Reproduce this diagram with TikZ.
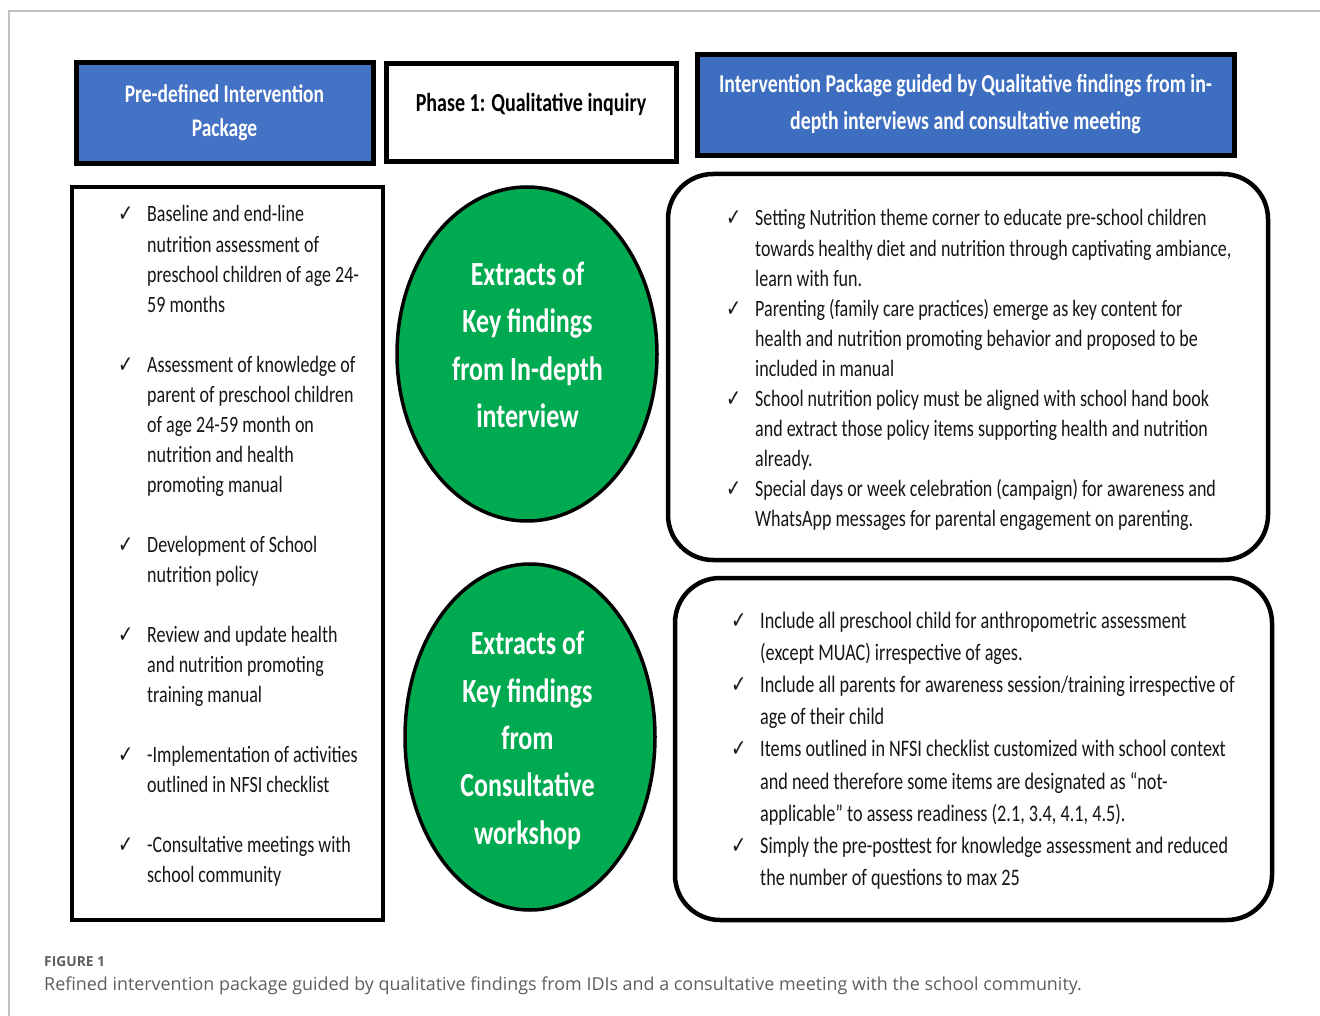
\documentclass[tikz,border=0pt]{standalone}
\usepackage{fontspec}
\usepackage{graphicx}
\setmainfont{Carlito}
\newfontfamily\symf{DejaVu Sans}
\newfontfamily\capf{Open Sans}
\usetikzlibrary{shapes.geometric}

\definecolor{hdrblue}{RGB}{68,114,196}
\definecolor{hdrblueb}{RGB}{62,110,192}
\definecolor{keygreen}{RGB}{0,170,80}
\definecolor{bodytext}{RGB}{22,22,22}
\definecolor{framegray}{RGB}{192,192,192}
\definecolor{capgray}{RGB}{95,95,95}

% check mark used as list bullet
\newcommand\tick{{\symf\char"2713}}
% the typeface of the figure is set tall and narrow
\newcommand\tall[1]{\scalebox{1}[1.3]{#1}}

\tikzset{
  hdrbox/.style={draw=black, line width=5pt, fill=hdrblue, inner sep=0pt},
  plainbox/.style={draw=black, line width=5pt, fill=white, inner sep=0pt},
  listbox/.style={draw=black, line width=4.5pt, fill=white, inner sep=0pt},
  roundbox/.style={draw=black, line width=4.5pt, rounded corners=45pt, fill=white, inner sep=0pt},
  keyoval/.style={ellipse, draw=black, line width=3.5pt, fill=keygreen, inner sep=0pt},
  hdrtext/.style={text=white, inner sep=0pt},
  ovaltext/.style={text=white, inner sep=0pt, font=\bfseries\fontsize{26}{36.4}\selectfont},
  bodytxt/.style={text=bodytext, inner sep=0pt, anchor=base west},
}

\begin{document}
\begin{tikzpicture}[x=1pt, y=-1pt]
\useasboundingbox (0,0) rectangle (1320,1016);
\fill[white] (0,0) rectangle (1320,1016);

% thin page frame (top and left)
\draw[framegray, line width=1.5pt] (9,1016) -- (9,11) -- (1320,11);

% ---------- header row ----------
\node[hdrbox, minimum width=297pt, minimum height=101pt] (pre) at (224.5,113.5) {};
\node[hdrtext, font=\bfseries\fontsize{19.5}{26.9}\selectfont] (pretext) at (224.5,112.5)
  {\tall{\begin{tabular}{@{}c@{}}Pre-defined Intervention\\Package\end{tabular}}};

\node[plainbox, minimum width=290pt, minimum height=98pt] (phase) at (531,113) {};
\node[inner sep=0pt, font=\bfseries\fontsize{20}{26}\selectfont] (phasetext) at (531,104)
  {\tall{Phase 1: Qualitative inquiry}};

\node[hdrbox, fill=hdrblueb, minimum width=537pt, minimum height=101pt] (guided) at (965.5,105.5) {};
\node[hdrtext, font=\bfseries\fontsize{19.8}{28.5}\selectfont] (guidedtext) at (965.5,103.5)
  {\tall{\begin{tabular}{@{}c@{}}Intervention Package guided by Qualitative findings from in-\\depth interviews and consultative meeting\end{tabular}}};

% ---------- pre-defined package list ----------
\node[listbox, minimum width=311pt, minimum height=733pt] (predef) at (227.5,553.5) {};
\node[bodytxt, font=\fontsize{18}{23.1}\selectfont] (predeftext) at (118,222)
  {\tall{\begin{tabular}[t]{@{}p{29pt}@{}l@{}}
  \tick & Baseline and end-line\\
        & nutrition assessment of\\
        & preschool children of age 24-\\
        & 59 months\\
        & \\
  \tick & Assessment of knowledge of\\
        & parent of preschool children\\
        & of age 24-59 month on\\
        & nutrition and health\\
        & promoting manual\\
        & \\
  \tick & Development of School\\
        & nutrition policy\\
        & \\
  \tick & Review and update health\\
        & and nutrition promoting\\
        & training manual\\
        & \\
  \tick & -Implementation of activities\\
        & outlined in NFSI checklist\\
        & \\
  \tick & -Consultative meetings with\\
        & school community
  \end{tabular}}};

% ---------- key-finding ovals ----------
\node[keyoval, minimum width=260pt, minimum height=334pt] (idi) at (527,354) {};
\node[ovaltext] (iditext) at (527.5,347)
  {\tall{\begin{tabular}{@{}c@{}}Extracts of\\Key findings\\from In-depth\\interview\end{tabular}}};

\node[keyoval, minimum width=250pt, minimum height=346pt] (cw) at (530,737) {};
\node[ovaltext] (cwtext) at (527.5,740)
  {\tall{\begin{tabular}{@{}c@{}}Extracts of\\Key findings\\from\\Consultative\\workshop\end{tabular}}};

% ---------- refined package lists ----------
\node[roundbox, minimum width=600pt, minimum height=386pt] (idilist) at (968,367) {};
\node[bodytxt, font=\fontsize{18}{23.1}\selectfont] (idilisttext) at (726,226)
  {\tall{\begin{tabular}[t]{@{}p{29pt}@{}l@{}}
  \tick & Setting Nutrition theme corner to educate pre-school children\\
        & towards healthy diet and nutrition through captivating ambiance,\\
        & learn with fun.\\
  \tick & Parenting (family care practices) emerge as key content for\\
        & health and nutrition promoting behavior and proposed to be\\
        & included in manual\\
  \tick & School nutrition policy must be aligned with school hand book\\
        & and extract those policy items supporting health and nutrition\\
        & already.\\
  \tick & Special days or week celebration (campaign) for awareness and\\
        & WhatsApp messages for parental engagement on parenting.
  \end{tabular}}};

\node[roundbox, minimum width=597pt, minimum height=342pt] (cwlist) at (973.5,749) {};
\node[bodytxt, font=\fontsize{18.2}{24.8}\selectfont] (cwlisttext) at (731,628)
  {\tall{\begin{tabular}[t]{@{}p{29pt}@{}l@{}}
  \tick & Include all preschool child for anthropometric assessment\\
        & (except MUAC) irrespective of ages.\\
  \tick & Include all parents for awareness session/training irrespective of\\
        & age of their child\\
  \tick & Items outlined in NFSI checklist customized with school context\\
        & and need therefore some items are designated as ``not-\\
        & applicable'' to assess readiness (2.1, 3.4, 4.1, 4.5).\\
  \tick & Simply the pre-posttest for knowledge assessment and reduced\\
        & the number of questions to max 25
  \end{tabular}}};

% ---------- caption ----------
\node[anchor=base west, inner sep=0pt, text=capgray, font=\capf\bfseries\fontsize{13.8}{16}\selectfont] (figlabel) at (44,966) {FIGURE 1};
\node[anchor=base west, inner sep=0pt, text=capgray, font=\capf\fontsize{17.9}{22}\selectfont] (figcaption) at (44,990)
  {Refined intervention package guided by qualitative findings from IDIs and a consultative meeting with the school community.};
\end{tikzpicture}
\end{document}
